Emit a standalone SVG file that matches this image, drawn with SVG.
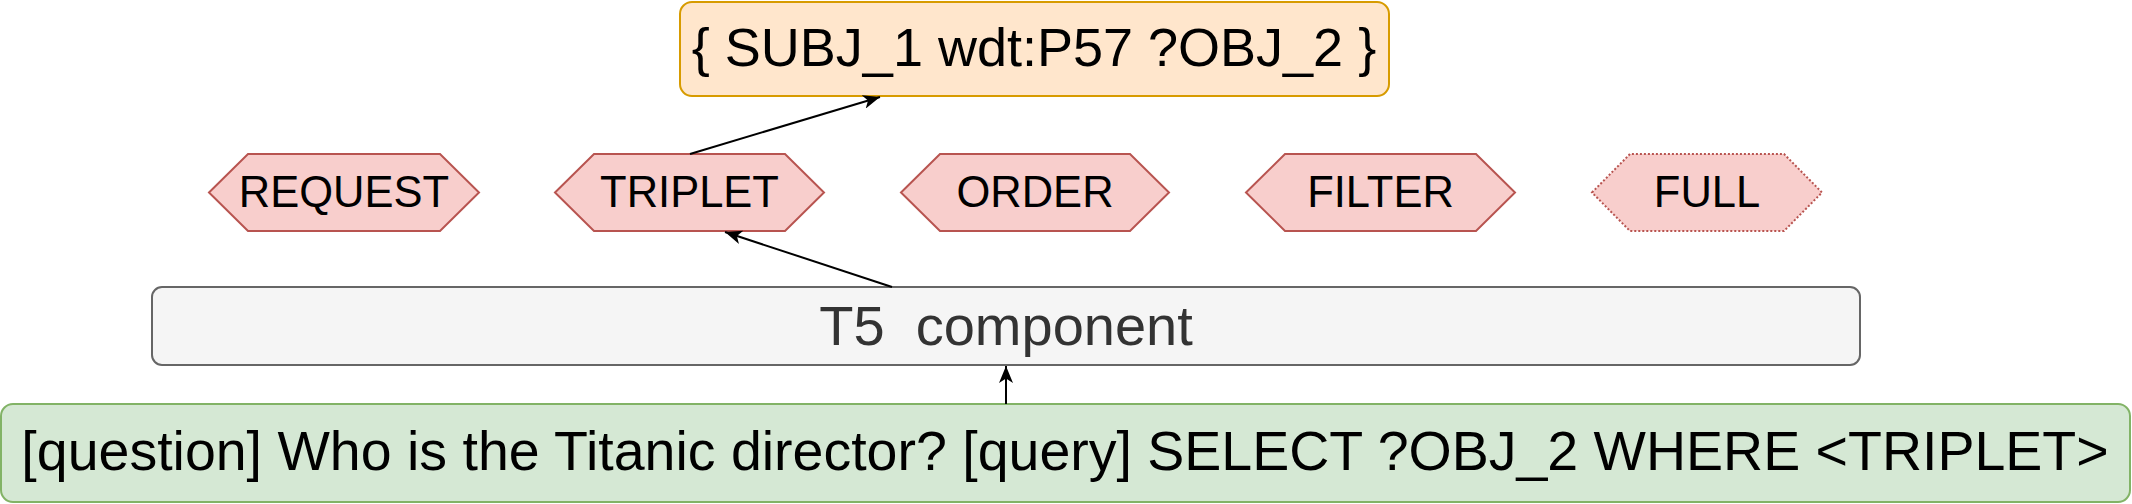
<svg xmlns="http://www.w3.org/2000/svg" width="2132" height="504" viewBox="0 0 2132 504">
  <style>
    .txt { font-family: "Liberation Sans", Arial, Helvetica, sans-serif; text-anchor: middle; fill: #000000; }
    .hex { fill: #f8cecc; stroke: #b85450; stroke-width: 2; }
    .hexlbl { font-size: 43.5px; }
    .conn { fill: none; stroke: #000000; stroke-width: 2; }
  </style>
  <defs>
    <marker id="arrow" viewBox="0 0 17 14" refX="17" refY="7" markerWidth="17" markerHeight="14" markerUnits="userSpaceOnUse" orient="auto">
      <path d="M0,0 L17,7 L0,14 L4.5,7 Z" fill="#000000"/>
    </marker>
  </defs>
  <rect width="2132" height="504" fill="#ffffff"/>

  <g id="triple-output">
    <rect x="680" y="2" width="709" height="94" rx="12" ry="12" fill="#ffe6cc" stroke="#d79b00" stroke-width="2"/>
    <text class="txt" x="1034" y="66" font-size="54">{ SUBJ_1 wdt:P57 ?OBJ_2 }</text>
  </g>

  <g id="request">
    <polygon class="hex" points="209,192.5 248,154 440,154 479,192.5 440,231 248,231"/>
    <text class="txt hexlbl" x="344" y="207">REQUEST</text>
  </g>
  <g id="triplet">
    <polygon class="hex" points="555,192.5 594,154 785,154 824,192.5 785,231 594,231"/>
    <text class="txt hexlbl" x="689.5" y="207">TRIPLET</text>
  </g>
  <g id="order">
    <polygon class="hex" points="901,192.5 940,154 1130,154 1169,192.5 1130,231 940,231"/>
    <text class="txt hexlbl" x="1035" y="207">ORDER</text>
  </g>
  <g id="filter">
    <polygon class="hex" points="1246,192.5 1285,154 1476,154 1515,192.5 1476,231 1285,231"/>
    <text class="txt hexlbl" x="1380.5" y="207">FILTER</text>
  </g>
  <g id="full">
    <polygon class="hex" points="1592,192.5 1630,154 1784,154 1822,192.5 1784,231 1630,231" stroke-dasharray="2 2"/>
    <text class="txt hexlbl" x="1707" y="207">FULL</text>
  </g>

  <g id="t5">
    <rect x="152" y="287" width="1708" height="78" rx="10" ry="10" fill="#f5f5f5" stroke="#666666" stroke-width="2"/>
    <text class="txt" x="1006" y="345" font-size="56" style="fill:#333333" xml:space="preserve">T5  component</text>
  </g>

  <g id="input">
    <rect x="1" y="404" width="2129" height="98" rx="12" ry="12" fill="#d5e8d4" stroke="#82b366" stroke-width="2"/>
    <text class="txt" x="1065" y="470" font-size="55.5">[question] Who is the Titanic director? [query] SELECT ?OBJ_2 WHERE &lt;TRIPLET&gt;</text>
  </g>

  <g id="connectors">
    <line class="conn" x1="690" y1="154" x2="880" y2="97" marker-end="url(#arrow)"/>
    <line class="conn" x1="892" y1="287" x2="725" y2="232" marker-end="url(#arrow)"/>
    <line class="conn" x1="1006" y1="404" x2="1006" y2="366" stroke-width="1.5" marker-end="url(#arrow)"/>
  </g>
</svg>
